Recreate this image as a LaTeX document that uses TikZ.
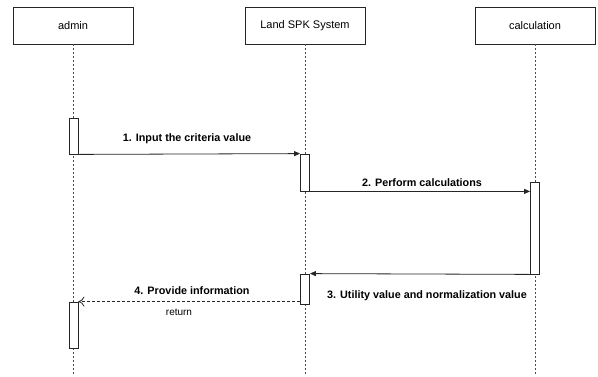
\documentclass[tikz,border=0pt]{standalone}
\usepackage{fontspec}
\setmainfont{Liberation Sans}
\usetikzlibrary{arrows.meta}
\begin{document}
\begin{tikzpicture}[x=1pt,y=-1pt,
  actor/.style={draw=black!85,line width=0.8pt,minimum width=120pt,minimum height=37pt,inner sep=0pt,font=\fontsize{11}{13}\selectfont},
  act/.style={draw=black!85,fill=white,line width=0.8pt,minimum width=9pt,inner sep=0pt},
  life/.style={draw=black!70,line width=0.8pt,dash pattern=on 2pt off 2pt},
  msg/.style={draw=black!85,line width=0.8pt,-{Triangle[length=6pt,width=5pt]}},
  ret/.style={draw=black!85,line width=0.8pt,dash pattern=on 3pt off 2pt,-{To[length=6pt,width=10pt]}},
  lbl/.style={font=\fontsize{10.8}{12}\bfseries\selectfont,inner sep=1pt},
  small/.style={font=\fontsize{10}{11}\selectfont,inner sep=1pt}]
\useasboundingbox (0,0) rectangle (598,376);
% actors
\node[actor] (admin) at (73,25.5) {admin};
\node[actor] (land) at (305,25.5) {Land SPK System};
\node[actor] (calc) at (535,25.5) {calculation};
\coordinate (adminE) at (73,376);
\coordinate (landE) at (305,376);
\coordinate (calcE) at (535,376);
\draw[life] (admin.south) -- (adminE);
\draw[life] (land.south) -- (landE);
\draw[life] (calc.south) -- (calcE);
% activations
\node[act,minimum height=36pt] (a1) at (73.5,136) {};
\node[act,minimum height=37pt] (l1) at (305,172.5) {};
\node[act,minimum height=92pt] (c1) at (535,228) {};
\node[act,minimum height=30pt] (l2) at (305,289) {};
\node[act,minimum height=46pt] (a2) at (73.5,325) {};
% messages
\draw[msg] (a1.south east) -- (l1.north west);
\node[lbl] (m1) at (187,139) {1. Input the criteria value};
\draw[msg] (l1.south east) -- (l1.south east -| c1.west);
\node[lbl] (m2) at (422,183) {2. Perform calculations};
\draw[msg] (c1.south west) -- (l2.north east);
\node[lbl] (m3) at (427,296) {3. Utility value and normalization value};
\draw[ret] (l2.west |- a2.north) -- (a2.north east);
\node[lbl] (m4) at (192,291) {4. Provide information};
\node[small] (rt) at (179,312) {return};
\end{tikzpicture}
\end{document}
